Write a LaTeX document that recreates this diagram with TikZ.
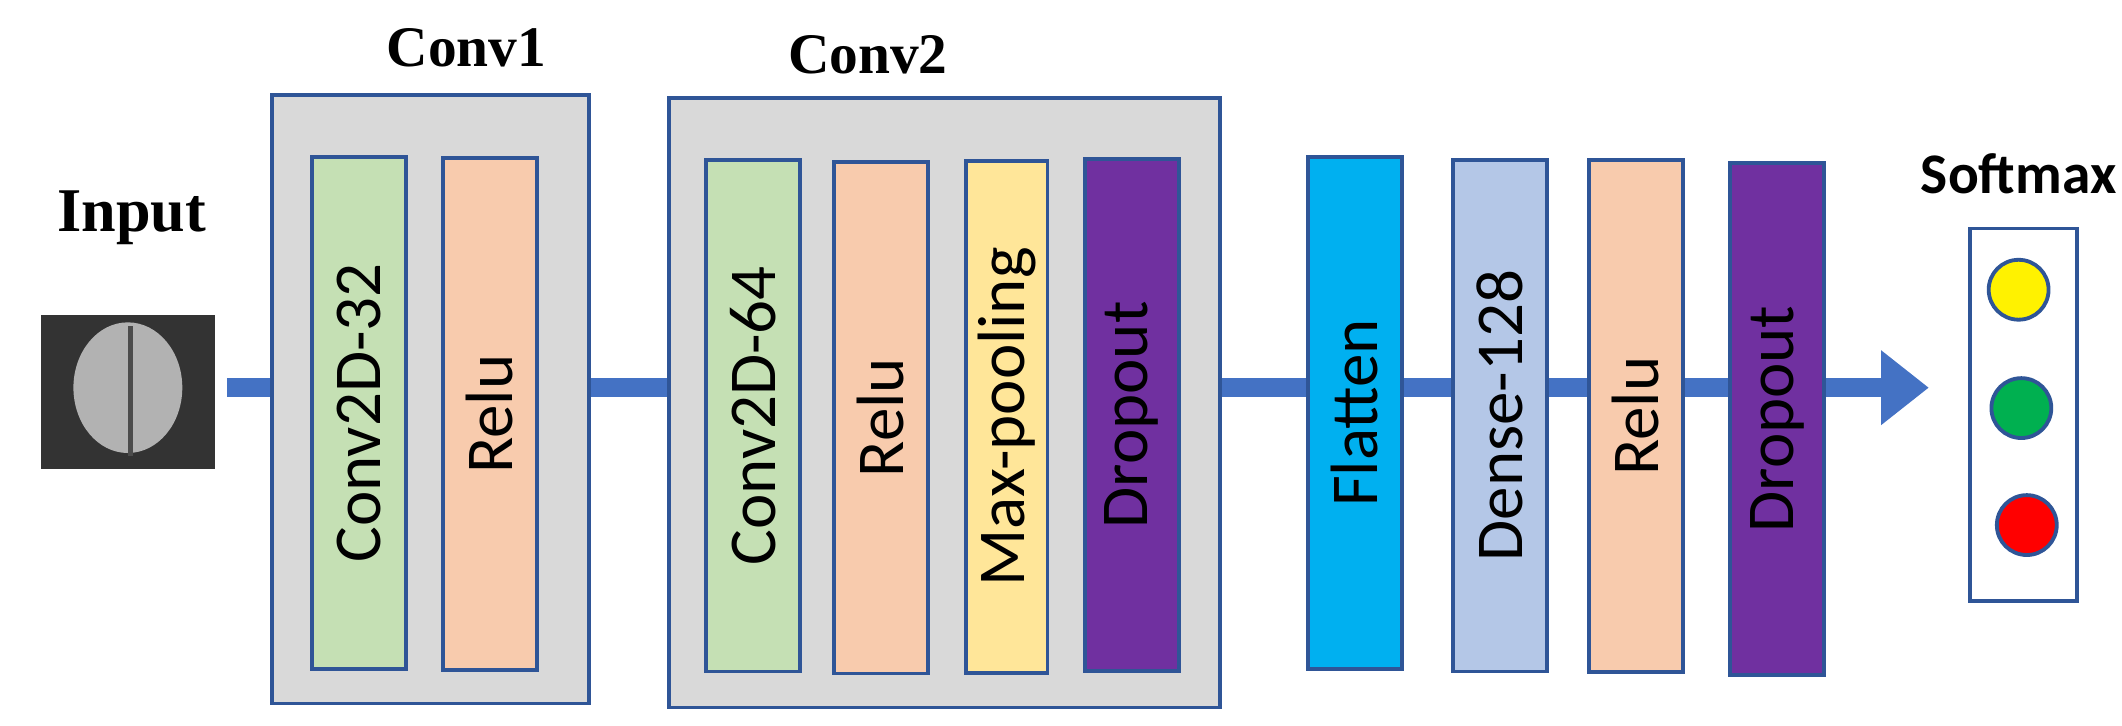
\documentclass[tikz,border=0pt]{standalone}
\usepackage{fontspec}
\setmainfont{Liberation Serif}
\newfontfamily\calib{Carlito}
\usetikzlibrary{arrows.meta}
\definecolor{cgreen}{HTML}{C5E0B4}
\definecolor{cpeach}{HTML}{F8CBAD}
\definecolor{cyell}{HTML}{FFE699}
\definecolor{cpurp}{HTML}{7030A0}
\definecolor{ccyan}{HTML}{00B0F0}
\definecolor{clblue}{HTML}{B4C7E7}
\definecolor{cline}{HTML}{4472C4}
\definecolor{cedge}{HTML}{2F5597}
\definecolor{cgray}{HTML}{D9D9D9}
\tikzset{
  layer/.style={draw=cedge, line width=0.8pt, minimum width=0.69cm, minimum height=3.76cm,
    inner sep=0pt},
  lbl/.style={rotate=90, font=\calib\fontsize{14}{14}\selectfont},
  group/.style={draw=cedge, line width=0.8pt, fill=cgray},
  title/.style={font=\bfseries\fontsize{12}{12}\selectfont},
  circ/.style={circle, draw=cedge, line width=0.8pt, minimum size=0.44cm, inner sep=0pt}
}
\begin{document}
\begin{tikzpicture}[x=0.01cm, y=-0.01cm]
\useasboundingbox (0,0) rectangle (1560,533);
% main flow arrow
\node[fill=black!80, minimum width=1.28cm, minimum height=1.13cm, inner sep=0pt] (img) at (94,288) {};
\fill[gray!60] (94,285) ellipse (0.4cm and 0.48cm);
\fill[black!70] (94,240) rectangle (98,335);
\coordinate (tip) at (1418,285);
\draw[cline, line width=4pt, -{Triangle[length=10pt, width=15pt]}] (img.east |- tip) ++(8,0) -- (tip);
\node[title, font=\bfseries\fontsize{13}{13}\selectfont] (tin) at (97,160) {Input};
% Conv1
\node[group, minimum width=2.33cm, minimum height=4.47cm] (g1) at (316.5,293.5) {};
\node[title] (t1) at (343,35) {Conv1};
\node[layer, fill=cgreen] (c1) at (264,303.5) {}; \node[lbl] at (c1) {Conv2D-32};
\node[layer, fill=cpeach] (r1) at (360,304.5) {}; \node[lbl] at (r1) {Relu};
% Conv2
\node[group, minimum width=4.05cm, minimum height=4.48cm] (g2) at (694.5,296) {};
\node[title] (t2) at (638,40) {Conv2};
\node[layer, fill=cgreen] (c2) at (553.5,305.5) {}; \node[lbl] at (c2) {Conv2D-64};
\node[layer, fill=cpeach] (r2) at (647.5,307) {}; \node[lbl] at (r2) {Relu};
\node[layer, fill=cyell, minimum width=0.6cm] (m2) at (740,306.5) {}; \node[lbl] at (m2) {Max-pooling};
\node[layer, fill=cpurp] (d2) at (832,305) {}; \node[lbl] at (d2) {Dropout};
% dense part
\node[layer, fill=ccyan] (fl) at (996,303.5) {}; \node[lbl] at (fl) {Flatten};
\node[layer, fill=clblue] (de) at (1102.5,305.5) {}; \node[lbl] at (de) {Dense-128};
\node[layer, fill=cpeach] (r3) at (1202.5,306) {}; \node[lbl] at (r3) {Relu};
\node[layer, fill=cpurp] (d3) at (1306.5,308) {}; \node[lbl] at (d3) {Dropout};
% softmax
\node[draw=cedge, line width=0.8pt, fill=white, minimum width=0.79cm, minimum height=2.74cm, inner sep=0pt] (sm) at (1487.5,305) {};
\node[font=\calib\bfseries\fontsize{12}{12}\selectfont] (ts) at (1484,128) {Softmax};
\node[circ, fill=yellow] (o1) at (1484,213) {};
\node[circ, fill={rgb,255:red,0;green,176;blue,80}] (o2) at (1486,300) {};
\node[circ, fill=red] (o3) at (1490,386) {};
\end{tikzpicture}
\end{document}
